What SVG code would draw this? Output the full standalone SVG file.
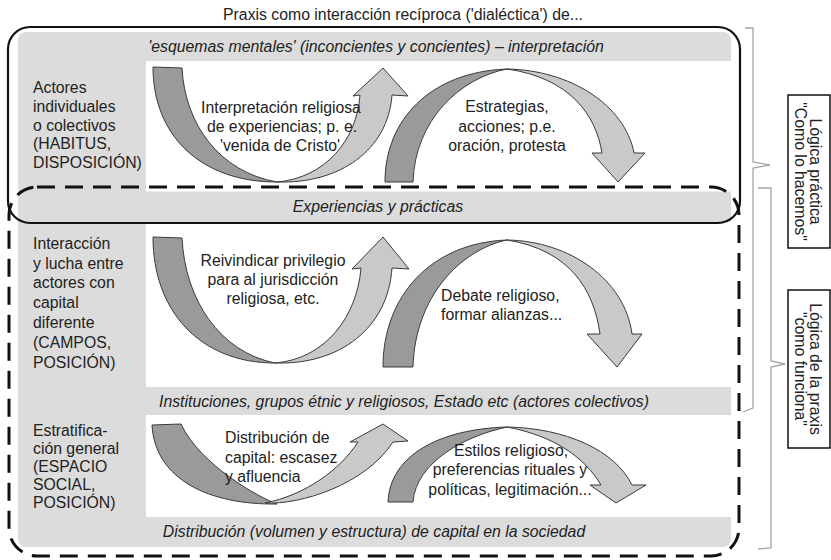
<svg xmlns="http://www.w3.org/2000/svg" width="831" height="560" viewBox="0 0 831 560">
  <style>
    text { font-family: "Liberation Sans", Arial, sans-serif; font-size: 15.8px; fill: #222; }
    .it { font-style: italic; text-anchor: middle; }
    .mid { text-anchor: middle; }
    .dark { fill: #9a9a9a; stroke: #3a3a3a; stroke-width: 1; stroke-linejoin: round; }
    .light { fill: #c9c9c9; stroke: #3a3a3a; stroke-width: 1; stroke-linejoin: round; }
    .brace { fill: none; stroke: #a6a6a6; stroke-width: 1.3; }
    .label { fill: #fff; stroke: #111; stroke-width: 1.5; }
  </style>
  <rect width="831" height="560" fill="#fff"/>

  <!-- title -->
  <text x="403" y="19.5" class="mid">Praxis como interacción recíproca ('dialéctica') de...</text>

  <!-- grey backdrop: left column and horizontal bands -->
  <g id="backdrop">
    <rect x="18" y="32" width="713" height="515" rx="8" fill="#dcdcdc"/>
    <rect x="146" y="61" width="586" height="130.5" fill="#fff"/>
    <rect x="146" y="222" width="586" height="165" fill="#fff"/>
    <rect x="146" y="415" width="586" height="102" fill="#fff"/>
  </g>

  <!-- band captions -->
  <g id="bands">
    <text x="376" y="52" class="it">'esquemas mentales' (inconcientes y concientes) – interpretación</text>
    <text x="378" y="211.5" class="it">Experiencias y prácticas</text>
    <text x="404" y="407" class="it">Instituciones, grupos étnic y religiosos, Estado etc (actores colectivos)</text>
    <text x="374" y="537" class="it">Distribución (volumen y estructura) de capital en la sociedad</text>
  </g>

  <!-- row headings -->
  <g id="row-habitus">
    <text x="33" y="93">Actores</text>
    <text x="33" y="111.5">individuales</text>
    <text x="33" y="130.5">o colectivos</text>
    <text x="33" y="149">(HABITUS,</text>
    <text x="33" y="168">DISPOSICIÓN)</text>
  </g>
  <g id="row-campos">
    <text x="33" y="249">Interacción</text>
    <text x="33" y="269">y lucha entre</text>
    <text x="33" y="288">actores con</text>
    <text x="33" y="308">capital</text>
    <text x="33" y="328">diferente</text>
    <text x="33" y="348">(CAMPOS,</text>
    <text x="33" y="368">POSICIÓN)</text>
  </g>
  <g id="row-espacio">
    <text x="33" y="436">Estratifica-</text>
    <text x="33" y="454">ción general</text>
    <text x="33" y="472">(ESPACIO</text>
    <text x="33" y="490">SOCIAL,</text>
    <text x="33" y="508">POSICIÓN)</text>
  </g>

  <!-- curved arrows -->
  <g id="connectors">
    <!-- top row -->
    <path class="dark" d="M153,67 L182,68 C185,125 220,172 277,182 C200,182 153,135 153,67 Z"/>
    <path class="light" d="M277,182 C340,184 388,150 392,95 L408,96 L383,68 L353,96 L360,95 C357,140 325,178 277,182 Z"/>
    <path class="dark" d="M385,182 C385,120 430,72 507,69 C460,78 415,120 413,182 Z"/>
    <path class="light" d="M507,69 C570,70 625,105 634,153 L645,153 L618,182 L592,153 L602,153 C596,115 570,78 507,69 Z"/>
    <!-- middle row -->
    <path class="dark" d="M153,237 L182,238 C185,300 220,352 275,363 C200,363 153,311 153,237 Z"/>
    <path class="light" d="M275,363 C340,365 388,328 392,268 L409,269 L383,237 L352,269 L361,268 C357,317 325,359 275,363 Z"/>
    <path class="dark" d="M383,367 C383,297 430,243 507,240 C460,250 415,297 413,367 Z"/>
    <path class="light" d="M507,240 C570,241 625,280 632,334 L642,334 L617,367 L587,334 L600,334 C594,290 570,250 507,240 Z"/>
    <!-- bottom row -->
    <path class="dark" d="M152,425 L181,424 C200,465 260,498 277,504 C210,505 155,480 152,425 Z"/>
    <path class="light" d="M265,503 C300,505 365,485 393,442 L408,441 L383,424 L350,442 L358,442 C340,470 305,495 265,503 Z"/>
    <path class="dark" d="M388,502 C390,455 440,429 507,427 C465,436 416,462 413,502 Z"/>
    <path class="light" d="M507,427 C565,428 615,450 632,485 L646,485 L616,503 L590,485 L601,485 C585,458 555,436 507,427 Z"/>
  </g>

  <!-- arrow captions -->
  <g id="arrow-interpretacion">
    <text x="281" y="113" class="mid">Interpretación religiosa</text>
    <text x="282" y="132" class="mid">de experiencias; p. e.</text>
    <text x="280" y="151" class="mid">'venida de Cristo'</text>
  </g>
  <g id="arrow-estrategias">
    <text x="507" y="112" class="mid">Estrategias,</text>
    <text x="507" y="132" class="mid">acciones; p.e.</text>
    <text x="507" y="151" class="mid">oración, protesta</text>
  </g>
  <g id="arrow-reivindicar">
    <text x="273" y="266" class="mid">Reivindicar privilegio</text>
    <text x="273" y="285" class="mid">para al jurisdicción</text>
    <text x="273" y="304" class="mid">religiosa, etc.</text>
  </g>
  <g id="arrow-debate">
    <text x="441" y="301">Debate religioso,</text>
    <text x="441" y="320">formar alianzas...</text>
  </g>
  <g id="arrow-distribucion">
    <text x="225" y="443">Distribución de</text>
    <text x="225" y="463">capital: escasez</text>
    <text x="225" y="482">y afluencia</text>
  </g>
  <g id="arrow-estilos">
    <text x="511" y="456" class="mid">Estilos religioso,</text>
    <text x="510" y="475" class="mid">preferencias rituales y</text>
    <text x="510" y="495" class="mid">políticas, legitimación...</text>
  </g>

  <!-- outlines of the two levels -->
  <g id="frames">
    <rect x="8" y="27" width="732" height="196" rx="22" fill="none" stroke="#111" stroke-width="2.2"/>
    <rect x="9" y="187" width="730" height="369" rx="28" fill="none" stroke="#111" stroke-width="3" stroke-dasharray="18 10"/>
  </g>

  <!-- side braces -->
  <g id="braces">
    <path class="brace" d="M745,28 L753,28 L753,162 L770,165 L753,168 L753,408 L743,412"/>
    <path class="brace" d="M758,188 L771,188 L771,361 L785,364 L771,367 L771,548 L758,549"/>
  </g>

  <!-- side labels -->
  <g id="label-practica">
    <rect class="label" x="788" y="95" width="42" height="153"/>
    <g transform="translate(810,171.5) rotate(90)">
      <text x="0" y="0" class="mid">Lógica práctica</text>
      <text x="0" y="15" class="mid">"Como lo hacemos"</text>
    </g>
  </g>
  <g id="label-praxis">
    <rect class="label" x="788" y="290" width="42" height="158"/>
    <g transform="translate(810,369) rotate(90)">
      <text x="0" y="0" class="mid">Lógica de la praxis</text>
      <text x="0" y="15" class="mid">"como funciona"</text>
    </g>
  </g>
</svg>
